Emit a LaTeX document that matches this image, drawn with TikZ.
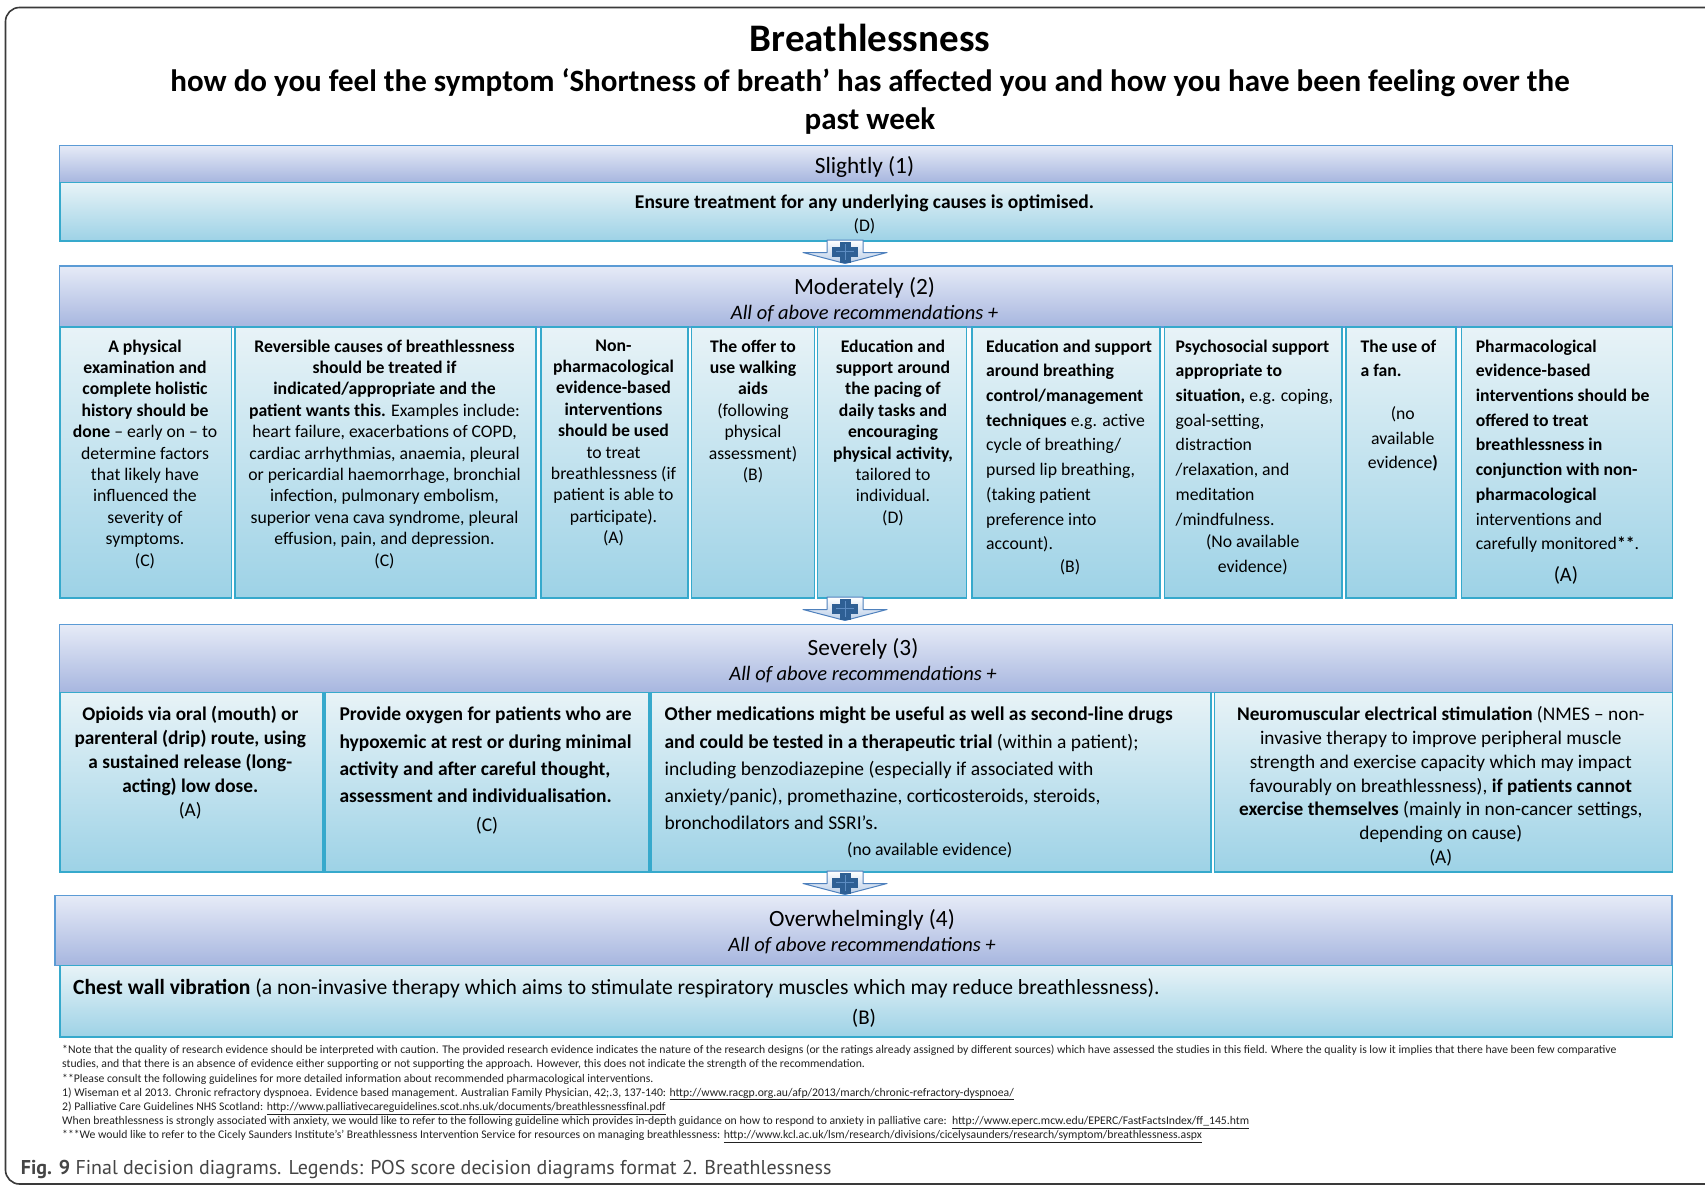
\documentclass[tikz,border=0pt]{standalone}
\usepackage{fontspec}
\setmainfont{Carlito}
\newfontfamily\capfont{PT Sans}
\usetikzlibrary{calc}
\definecolor{hdrtop}{HTML}{E6EBF7}
\definecolor{hdrbot}{HTML}{A7B6DF}
\definecolor{hdrline}{HTML}{5B9BD5}
\definecolor{celltop}{HTML}{E8F3F7}
\definecolor{cellbot}{HTML}{9DD2E6}
\definecolor{cellline}{HTML}{36A9CC}
\definecolor{arrline}{HTML}{4F81BD}
\definecolor{arrfill}{HTML}{B9CDE8}
\definecolor{plusc}{HTML}{2E5F94}
\definecolor{plushi}{HTML}{5D8CC2}
\definecolor{framec}{HTML}{3A3A3A}
\definecolor{notec}{HTML}{222222}
\definecolor{capc}{HTML}{454545}
\newcommand\fs[2]{\fontsize{#1}{#2}\selectfont}
\newcommand\plusarrow[2]{%
  \begin{scope}[shift={(#1,#2)}]
    \path[draw=arrline, line width=1pt, top color=white, bottom color=arrfill, line join=round]
      (-18,0) -- (18,0) -- (18,12.5) -- (42,12.5) -- (0,23.5) -- (-42,12.5) -- (-18,12.5) -- cycle;
    \fill[plusc] (-5.5,1.5) rectangle (5.5,22.5);
    \fill[plusc] (-13,6.5) rectangle (13,16.5);
    \draw[plushi, line width=0.8pt] (-9,11.5) -- (9,11.5) (0,4) -- (0,20);
  \end{scope}}
\tikzset{
  hdr/.style={draw=hdrline, line width=1.3pt, top color=hdrtop, bottom color=hdrbot, inner sep=0, anchor=north west},
  cell/.style={draw=cellline, line width=1.6pt, top color=celltop, bottom color=cellbot, inner sep=0, anchor=north west},
  ctxt/.style={inner sep=0, anchor=north, align=center, font=\fs{17.7}{21.4}},
  ltxt/.style={inner sep=0, anchor=north west, align=left, font=\fs{17.7}{24.7}},
  stxt/.style={inner sep=0, anchor=north, align=center, font=\fs{19.3}{23.9}},
  sltxt/.style={inner sep=0, anchor=north west, align=left, font=\fs{19.5}{27.2}},
  htxt/.style={inner sep=0, font=\fs{23.3}{26}},
  itxt/.style={inner sep=0, font=\fs{20.5}{24}\itshape},
}
\begin{document}
\begin{tikzpicture}[x=1pt,y=-1pt]
\useasboundingbox (0,0) rectangle (1705,1186);
\fill[white] (0,0) rectangle (1705,1186);
\draw[framec, line width=1.6pt, rounded corners=14pt] (5.5,7.5) rectangle (1740,1184);

% title
\node[inner sep=0, font=\fs{39}{44}\bfseries] (title) at (870,38) {Breathlessness};
\node[inner sep=0, align=center, font=\fs{31}{38}\bfseries] (subtitle) at (870,101.5)
  {how do you feel the symptom ‘Shortness of breath’ has affected you and how you have been feeling over the\\past week};

% level 1
\node[hdr, minimum width=1612.5pt, minimum height=37pt] (slight) at (59,144.6) {};
\node[htxt] (slightt) at (864.5,167.3) {Slightly (1)};
\node[cell, minimum width=1612.5pt, minimum height=58.7pt] (ensure) at (59,181.6) {};
\node[inner sep=0, font=\fs{19.5}{21}\bfseries] (ensuret) at (864.5,203) {Ensure treatment for any underlying causes is optimised.};
\node[inner sep=0, font=\fs{17.7}{21}] (ensureg) at (864.5,226.3) {(D)};

% level 2
\node[hdr, minimum width=1612.5pt, minimum height=61pt] (modhdr) at (59,265.3) {};
\node[htxt] (modt) at (864.5,288) {Moderately (2)};
\node[itxt] (modi) at (864.5,314) {All of above recommendations +};

\node[cell, minimum width=171.5pt, minimum height=271pt] (m1) at (59,326.2) {};
\node[cell, minimum width=301pt, minimum height=271pt] (m2) at (234,326.2) {};
\node[cell, minimum width=147pt, minimum height=271pt] (m3) at (540,326.2) {};
\node[cell, minimum width=123pt, minimum height=271pt] (m4) at (690.5,326.2) {};
\node[cell, minimum width=149pt, minimum height=271pt] (m5) at (816.5,326.2) {};
\node[cell, minimum width=188pt, minimum height=271pt] (m6) at (971,326.2) {};
\node[cell, minimum width=177.5pt, minimum height=271pt] (m7) at (1163.5,326.2) {};
\node[cell, minimum width=110pt, minimum height=271pt] (m8) at (1345,326.2) {};
\node[cell, minimum width=211pt, minimum height=271pt] (m9) at (1460.5,326.2) {};

\node[ctxt] (m1t) at (145,339.5) {\textbf{A physical}\\\textbf{examination and}\\\textbf{complete holistic}\\\textbf{history should be}\\\textbf{done} – early on – to\\determine factors\\that likely have\\influenced the\\severity of\\symptoms.\\(C)};
\node[ctxt] (m2t) at (384.5,339.5) {\textbf{Reversible causes of breathlessness}\\\textbf{should be treated if}\\\textbf{indicated/appropriate and the}\\\textbf{patient wants this.} Examples include:\\heart failure, exacerbations of COPD,\\cardiac arrhythmias, anaemia, pleural\\or pericardial haemorrhage, bronchial\\infection, pulmonary embolism,\\superior vena cava syndrome, pleural\\effusion, pain, and depression.\\(C)};
\node[ctxt] (m3t) at (613.5,339.5) {\textbf{Non-}\\\textbf{pharmacological}\\\textbf{evidence-based}\\\textbf{interventions}\\\textbf{should be used}\\to treat\\breathlessness (if\\patient is able to\\participate).\\(A)};
\node[ctxt] (m4t) at (753,339.5) {\textbf{The offer to}\\\textbf{use walking}\\\textbf{aids}\\(following\\physical\\assessment)\\(B)};
\node[ctxt] (m5t) at (893,339.5) {\textbf{Education and}\\\textbf{support around}\\\textbf{the pacing of}\\\textbf{daily tasks and}\\\textbf{encouraging}\\\textbf{physical activity,}\\tailored to\\individual.\\(D)};
\node[ltxt] (m6t) at (986,339.5) {\textbf{Education and support}\\\textbf{around breathing}\\\textbf{control/management}\\\textbf{techniques} e.g. active\\cycle of breathing/\\pursed lip breathing,\\(taking patient\\preference into\\account).};
\node[inner sep=0, font=\fs{17.7}{24.7}] (m6g) at (1070,567.6) {(B)};
\node[ltxt] (m7t) at (1175.5,339.5) {\textbf{Psychosocial support}\\\textbf{appropriate to}\\\textbf{situation,} e.g. coping,\\goal-setting,\\distraction\\/relaxation, and\\meditation\\/mindfulness.};
\node[inner sep=0, align=center, font=\fs{17.7}{24.7}] (m7g) at (1252.7,555) {(No available\\evidence)};
\node[ltxt] (m8t) at (1360.3,339.5) {\textbf{The use of}\\\textbf{a fan.}};
\node[inner sep=0, align=center, font=\fs{17.7}{24.7}] (m8g) at (1402.8,439) {(no\\available\\evidence\textbf{)}};
\node[ltxt] (m9t) at (1475.6,339.5) {\textbf{Pharmacological}\\\textbf{evidence-based}\\\textbf{interventions should be}\\\textbf{offered to treat}\\\textbf{breathlessness in}\\\textbf{conjunction with non-}\\\textbf{pharmacological}\\interventions and\\carefully monitored\textbf{**}.};
\node[inner sep=0, font=\fs{20.5}{24}] (m9g) at (1565.9,575.2) {(A)};

% level 3
\node[hdr, minimum width=1612.5pt, minimum height=67.6pt] (sevhdr) at (59,624) {};
\node[htxt] (sevt) at (863,649) {Severely (3)};
\node[itxt] (sevi) at (863,675) {All of above recommendations +};

\node[cell, minimum width=263pt, minimum height=179.4pt] (s1) at (59,691.6) {};
\node[cell, minimum width=324pt, minimum height=179.4pt] (s2) at (324,691.6) {};
\node[cell, minimum width=560pt, minimum height=179.4pt] (s3) at (650.3,691.6) {};
\node[cell, minimum width=458pt, minimum height=179.4pt] (s4) at (1213.5,691.6) {};

\node[stxt] (s1t) at (190.3,706) {\textbf{Opioids via oral (mouth) or}\\\textbf{parenteral (drip) route, using}\\\textbf{a sustained release (long-}\\\textbf{acting) low dose.}\\(A)};
\node[sltxt] (s2t) at (339.3,707) {\textbf{Provide oxygen for patients who are}\\\textbf{hypoxemic at rest or during minimal}\\\textbf{activity and after careful thought,}\\\textbf{assessment and individualisation.}};
\node[inner sep=0, font=\fs{19.5}{24}] (s2g) at (487,825.5) {(C)};
\node[sltxt] (s3t) at (664.4,707) {\textbf{Other medications might be useful as well as second-line drugs}\\\textbf{and could be tested in a therapeutic trial} (within a patient);\\including benzodiazepine (especially if associated with\\anxiety/panic), promethazine, corticosteroids, steroids,\\bronchodilators and SSRI’s.};
\node[inner sep=0, font=\fs{17.7}{24}] (s3g) at (929.7,850.5) {(no available evidence)};
\node[stxt] (s4t) at (1440.8,706) {\textbf{Neuromuscular electrical stimulation} (NMES – non-\\invasive therapy to improve peripheral muscle\\strength and exercise capacity which may impact\\favourably on breathlessness), \textbf{if patients cannot}\\\textbf{exercise themselves} (mainly in non-cancer settings,\\depending on cause)\\(A)};

% level 4
\node[hdr, minimum width=1617pt, minimum height=69.5pt] (ovhdr) at (54.4,895) {};
\node[htxt] (ovt) at (862,920) {Overwhelmingly (4)};
\node[itxt] (ovi) at (862,946) {All of above recommendations +};
\node[cell, minimum width=1612.5pt, minimum height=71.8pt] (chest) at (59,964.5) {};
\node[inner sep=0, anchor=west, font=\fs{21.6}{24}] (chestt) at (73,988) {\textbf{Chest wall vibration} (a non-invasive therapy which aims to stimulate respiratory muscles which may reduce breathlessness).};
\node[inner sep=0, font=\fs{21}{24}] (chestg) at (864,1018.5) {(B)};

% arrows
\plusarrow{845}{240}
\plusarrow{845}{597}
\plusarrow{845}{871}

% notes
\node[inner sep=0, anchor=north west, align=left, text=notec, font=\fs{11.7}{14.15}] (notes) at (62,1045) {*Note that the quality of research evidence should be interpreted with caution. The provided research evidence indicates the nature of the research designs (or the ratings already assigned by different sources) which have assessed the studies in this field. Where the quality is low it implies that there have been few comparative\\studies, and that there is an absence of evidence either supporting or not supporting the approach. However, this does not indicate the strength of the recommendation.\\**Please consult the following guidelines for more detailed information about recommended pharmacological interventions.\\1) Wiseman et al 2013. Chronic refractory dyspnoea. Evidence based management. Australian Family Physician, 42;.3, 137-140: \underline{http://www.racgp.org.au/afp/2013/march/chronic-refractory-dyspnoea/}\\2) Palliative Care Guidelines NHS Scotland: \underline{http://www.palliativecareguidelines.scot.nhs.uk/documents/breathlessnessfinal.pdf}\\When breathlessness is strongly associated with anxiety, we would like to refer to the following guideline which provides in-depth guidance on how to respond to anxiety in palliative care:\ \ \underline{http://www.eperc.mcw.edu/EPERC/FastFactsIndex/ff\_145.htm}\\***We would like to refer to the Cicely Saunders Institute’s’ Breathlessness Intervention Service for resources on managing breathlessness: \underline{http://www.kcl.ac.uk/lsm/research/divisions/cicelysaunders/research/symptom/breathlessness.aspx}};

% caption
\node[inner sep=0, anchor=west, text=capc, font=\capfont\fs{20}{24}] (caption) at (20.7,1169) {\textbf{Fig. 9} Final decision diagrams. Legends: POS score decision diagrams format 2. Breathlessness};
\end{tikzpicture}
\end{document}
